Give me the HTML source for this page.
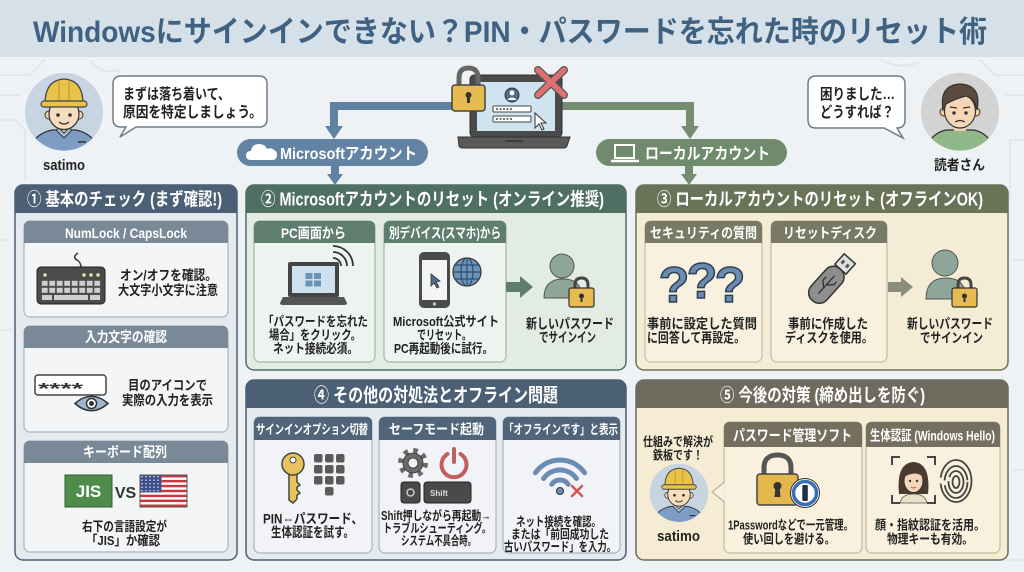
<!DOCTYPE html>
<html><head><meta charset="utf-8"><style>
html,body{margin:0;padding:0;width:1024px;height:572px;overflow:hidden;background:#eef2f5;}
svg{display:block}
</style></head><body>
<svg width="1024" height="572" viewBox="0 0 1024 572" xmlns="http://www.w3.org/2000/svg" xmlns:xlink="http://www.w3.org/1999/xlink" font-family="'Liberation Sans','Noto Sans CJK JP',sans-serif" font-weight="700">
<defs>
 <clipPath id="cc"><circle r="38.5"/></clipPath>
 <g id="sat">
  <circle r="39" fill="#c7d5e2"/>
  <g clip-path="url(#cc)">
   <path d="M-35,40 Q-31,22 -12,18 H12 Q31,22 35,40 Z" fill="#7e9dc2" stroke="#333" stroke-width="1.2"/>
   <rect x="-6" y="10" width="12" height="10" fill="#f3d2ae"/>
   <path d="M-8,18 L0,26 L8,18 L5,16 L0,21 L-5,16 Z" fill="#a9c0da" stroke="#333" stroke-width="1"/>
   <path d="M14,30 H22" stroke="#333" stroke-width="1.5"/>
  </g>
  <circle cx="-15" cy="3" r="4" fill="#f3d2ae" stroke="#333" stroke-width="1"/>
  <circle cx="15" cy="3" r="4" fill="#f3d2ae" stroke="#333" stroke-width="1"/>
  <ellipse cx="0" cy="2" rx="15" ry="15.5" fill="#f7dcbd" stroke="#333" stroke-width="1.2"/>
  <path d="M-19,-8 Q-19,-32 0,-33 Q19,-32 19,-8 Z" fill="#e9c24c" stroke="#444" stroke-width="1.2"/>
  <path d="M-5,-31 V-10 M5,-31 V-10" stroke="#c9a23a" stroke-width="1.5"/>
  <rect x="-23" y="-11" width="46" height="6" rx="3" fill="#e9c24c" stroke="#444" stroke-width="1.2"/>
  <circle cx="-6" cy="3" r="1.8" fill="#333"/>
  <circle cx="6" cy="3" r="1.8" fill="#333"/>
  <path d="M-5,10 Q0,14 5,10" stroke="#333" stroke-width="1.3" fill="none"/>
 </g>
 <pattern id="keys" x="41" y="280" width="7.5" height="7" patternUnits="userSpaceOnUse"><rect x="0.8" y="0.8" width="5.8" height="5" fill="#cfcfcf"/></pattern>
 <pattern id="stripes" x="140" y="475" width="47" height="4.92" patternUnits="userSpaceOnUse"><rect width="47" height="2.46" fill="#c8373d"/><rect y="2.46" width="47" height="2.46" fill="#fff"/></pattern>
 <pattern id="stars" x="140" y="475" width="4" height="3.5" patternUnits="userSpaceOnUse"><rect width="4" height="3.5" fill="#3d4f8a"/><circle cx="2" cy="1.7" r="0.7" fill="#fff"/></pattern>
</defs>

<!-- background circuit -->
<g stroke="#dde4ea" stroke-width="1.5" fill="none">
 <path d="M0,75 H30 L45,60 M0,95 H20 M0,120 H15 L25,130 V180 M0,240 H10 M0,330 H12"/>
 <path d="M1024,75 H995 L980,60 M1024,95 H1005 M1024,140 H1010 V200 M1024,260 H1012 M1024,470 H1012 M1000,560 H1024"/>
 <path d="M90,60 Q100,75 120,70 M880,60 Q900,70 920,62"/>
</g>

<!-- title -->
<rect width="1024" height="57" fill="#d5e0e8"/>
<text x="33" y="42" font-size="30" fill="#3f6283" textLength="954" lengthAdjust="spacingAndGlyphs">Windowsにサインインできない？PIN・パスワードを忘れた時のリセット術</text>

<!-- avatars -->
<use xlink:href="#sat" href="#sat" transform="translate(64,112)"/>
<text x="43" y="170" font-size="15" fill="#222" textLength="42" lengthAdjust="spacingAndGlyphs">satimo</text>

<circle cx="960" cy="112" r="39" fill="#d3d3d3"/>
<clipPath id="rc"><circle cx="960" cy="112" r="38.5"/></clipPath>
<g clip-path="url(#rc)">
 <path d="M924,156 Q928,134 946,130 H974 Q992,134 996,156 Z" fill="#8fb888" stroke="#333" stroke-width="1.2"/>
 <rect x="954" y="122" width="12" height="9" fill="#f3d2ae"/>
</g>
<circle cx="944" cy="112" r="4" fill="#f3d2ae" stroke="#333" stroke-width="1"/>
<circle cx="976" cy="112" r="4" fill="#f3d2ae" stroke="#333" stroke-width="1"/>
<ellipse cx="960" cy="111" rx="15.5" ry="17" fill="#f5d7b8" stroke="#333" stroke-width="1.2"/>
<path d="M943,110 Q939,85 960,84 Q982,85 977,110 Q975,99 966,96 Q954,99 946,104 Z" fill="#5b4a3d" stroke="#333" stroke-width="1.2"/>
<circle cx="954" cy="113" r="1.7" fill="#333"/><circle cx="966" cy="113" r="1.7" fill="#333"/>
<path d="M950,107 L957,108 M963,108 L970,107" stroke="#333" stroke-width="1.2"/>
<path d="M955,122 Q960,119 965,122" stroke="#333" stroke-width="1.2" fill="none"/>
<text x="934" y="170" font-size="14" fill="#222" textLength="51" lengthAdjust="spacingAndGlyphs">読者さん</text>

<!-- bubbles -->
<path d="M121,76 H259 Q267,76 267,84 V119 Q267,127 259,127 H136 L120,137 L126,127 H121 Q113,127 113,119 V84 Q113,76 121,76 Z" fill="#fff" stroke="#6f7d8a" stroke-width="1.5"/>
<text x="123" y="99" font-size="15" fill="#222" textLength="107" lengthAdjust="spacingAndGlyphs">まずは落ち着いて、</text>
<text x="123" y="117" font-size="15" fill="#222" textLength="139" lengthAdjust="spacingAndGlyphs">原因を特定しましょう。</text>
<path d="M816,76 H897 Q905,76 905,84 V120 Q905,128 897,128 L903,138 L884,128 H816 Q808,128 808,120 V84 Q808,76 816,76 Z" fill="#fff" stroke="#6f7d8a" stroke-width="1.5"/>
<text x="820" y="99" font-size="15" fill="#222" textLength="75" lengthAdjust="spacingAndGlyphs">困りました…</text>
<text x="820" y="117" font-size="15" fill="#222" textLength="74" lengthAdjust="spacingAndGlyphs">どうすれば？</text>

<!-- connectors -->
<path d="M458,106 H334 V128" stroke="#6081a1" stroke-width="8" fill="none"/>
<path d="M325,126 H343 L334,139 Z" fill="#6081a1"/>
<path d="M335,165 V176" stroke="#6081a1" stroke-width="8"/>
<path d="M327,174 H343 L335,185 Z" fill="#6081a1"/>
<path d="M555,106 H690 V128" stroke="#728d6f" stroke-width="8" fill="none"/>
<path d="M681,126 H699 L690,139 Z" fill="#728d6f"/>
<path d="M689,165 V176" stroke="#728d6f" stroke-width="8"/>
<path d="M681,174 H697 L689,185 Z" fill="#728d6f"/>

<!-- pills -->
<rect x="237" y="139" width="191" height="27" rx="13.5" fill="#6283a3"/>
<path d="M251,160 Q246,160 246,155.5 Q246,151 251,151 Q252,144 259,144 Q265,144 267,149 Q271,147 274,150 Q277,151 277,155 Q277,160 272,160 Z" fill="#fff"/>
<text x="280" y="159" font-size="16" fill="#fff" textLength="137" lengthAdjust="spacingAndGlyphs">Microsoftアカウント</text>
<rect x="596" y="139" width="191" height="27" rx="13.5" fill="#6f8a6c"/>
<rect x="615" y="145" width="19" height="13" fill="none" stroke="#fff" stroke-width="2"/>
<path d="M611,161 H639" stroke="#fff" stroke-width="2.5"/>
<text x="645" y="159" font-size="16" fill="#fff" textLength="125" lengthAdjust="spacingAndGlyphs">ローカルアカウント</text>

<!-- center laptop -->
<rect x="470" y="75" width="92" height="62" rx="4" fill="#4a4a4a" stroke="#333"/>
<rect x="477" y="82" width="78" height="49" fill="#cfe4ef"/>
<path d="M458,137 H570 L567,146 Q566,148 563,148 H463 Q460,148 459,146 Z" fill="#5a5a5a" stroke="#333"/>
<path d="M505,141 H523" stroke="#333" stroke-width="1.5"/>
<circle cx="512" cy="95" r="7" fill="#4f6b8a" stroke="#333"/>
<circle cx="512" cy="93" r="2.5" fill="#fff"/><path d="M507,100 Q512,95 517,100" fill="#fff"/>
<rect x="493" y="106" width="38" height="6" rx="1" fill="#fff" stroke="#444"/>
<rect x="493" y="116" width="38" height="6" rx="1" fill="#fff" stroke="#444"/>
<path d="M496,109 H512 M496,119 H512" stroke="#444" stroke-width="1.5" stroke-dasharray="2 1.5"/>
<path d="M535,113 L535,128 L539,124 L542,130 L544,129 L541,123 L546,123 Z" fill="#fff" stroke="#333"/>
<path d="M459,88 V78 Q459,68 468.5,68 Q478,68 478,78 V88" fill="none" stroke="#666" stroke-width="5"/>
<rect x="452" y="85" width="33" height="26" rx="3" fill="#e6bb52" stroke="#444" stroke-width="1.5"/>
<circle cx="468.5" cy="95" r="3" fill="#333"/><rect x="467" y="96" width="3" height="7" fill="#333"/>
<path d="M538,70 L564,95 M564,70 L538,95" stroke="#555" stroke-width="8" stroke-linecap="round"/>
<path d="M538,70 L564,95 M564,70 L538,95" stroke="#de7070" stroke-width="5.5" stroke-linecap="round"/>

<!-- BOX 1 -->
<rect x="15" y="185" width="222" height="375" rx="8" fill="#e5eaee" stroke="#4b5f75" stroke-width="1.5"/>
<path d="M15,213 V193 Q15,185 23,185 H229 Q237,185 237,193 V213 Z" fill="#4b5f75"/>
<text x="27" y="205.5" font-size="18" fill="#fff" textLength="195" lengthAdjust="spacingAndGlyphs">① 基本のチェック (まず確認!)</text>

<rect x="24" y="221" width="204" height="96" rx="6" fill="#f3f5f7" stroke="#aab4be" stroke-width="1.2"/>
<path d="M24,243 V227 Q24,221 30,221 H222 Q228,221 228,227 V243 Z" fill="#7a8998"/>
<text x="65" y="238" font-size="14" fill="#fff" textLength="122" lengthAdjust="spacingAndGlyphs">NumLock / CapsLock</text>
<path d="M81,268 Q81,262 77,260 Q72,257 78,253" stroke="#333" stroke-width="1.5" fill="none"/>
<rect x="37" y="267" width="68" height="37" rx="4" fill="#4b4b4b" stroke="#222"/>
<circle cx="45" cy="275" r="1.8" fill="#dfe6b0"/><circle cx="84" cy="275" r="1.8" fill="#dfe6b0"/><circle cx="91" cy="275" r="1.8" fill="#dfe6b0"/><circle cx="98" cy="275" r="1.8" fill="#dfe6b0"/>
<rect x="41" y="280" width="60" height="14" fill="url(#keys)"/>
<rect x="42" y="295" width="10" height="5" fill="#cfcfcf"/><rect x="54" y="295" width="34" height="5" fill="#cfcfcf"/><rect x="90" y="295" width="10" height="5" fill="#cfcfcf"/>
<text x="120" y="280" font-size="13.5" fill="#222" textLength="97" lengthAdjust="spacingAndGlyphs">オン/オフを確認。</text>
<text x="118" y="295" font-size="13.5" fill="#222" textLength="100" lengthAdjust="spacingAndGlyphs">大文字小文字に注意</text>

<rect x="24" y="326" width="204" height="106" rx="6" fill="#f3f5f7" stroke="#aab4be" stroke-width="1.2"/>
<path d="M24,348 V332 Q24,326 30,326 H222 Q228,326 228,332 V348 Z" fill="#7a8998"/>
<text x="85" y="342" font-size="14" fill="#fff" textLength="82" lengthAdjust="spacingAndGlyphs">入力文字の確認</text>
<rect x="35" y="375" width="71" height="20" rx="3" fill="#fff" stroke="#444" stroke-width="1.5"/>
<text x="38" y="394" font-size="16" fill="#333" textLength="45" lengthAdjust="spacingAndGlyphs">****</text>
<path d="M75,403.5 Q91.5,389 108,403.5 Q91.5,418 75,403.5 Z" fill="#9cb7cf" stroke="#333" stroke-width="1.5"/>
<circle cx="91.5" cy="403.5" r="5" fill="#fff" stroke="#333" stroke-width="1.5"/><circle cx="91.5" cy="403.5" r="2.5" fill="#333"/>
<text x="128" y="390" font-size="13.5" fill="#222" textLength="79" lengthAdjust="spacingAndGlyphs">目のアイコンで</text>
<text x="122" y="405" font-size="13.5" fill="#222" textLength="91" lengthAdjust="spacingAndGlyphs">実際の入力を表示</text>

<rect x="24" y="441" width="204" height="111" rx="6" fill="#f3f5f7" stroke="#aab4be" stroke-width="1.2"/>
<path d="M24,463 V447 Q24,441 30,441 H222 Q228,441 228,447 V463 Z" fill="#7a8998"/>
<text x="83" y="457" font-size="14" fill="#fff" textLength="84" lengthAdjust="spacingAndGlyphs">キーボード配列</text>
<rect x="65" y="475" width="47" height="32" fill="#4f8c4c" stroke="#2f5f2f"/>
<text x="88.5" y="497" font-size="17" fill="#fff" text-anchor="middle">JIS</text>
<text x="125.5" y="498" font-size="16" fill="#333" text-anchor="middle">VS</text>
<rect x="140" y="475" width="47" height="32" fill="url(#stripes)" stroke="#555"/>
<rect x="140.5" y="475.5" width="21" height="17" fill="url(#stars)"/>
<text x="82" y="531" font-size="13" fill="#222" textLength="85" lengthAdjust="spacingAndGlyphs">右下の言語設定が</text>
<text x="86" y="545" font-size="13" fill="#222" textLength="74" lengthAdjust="spacingAndGlyphs">「JIS」か確認</text>

<!-- BOX 2 -->
<rect x="246" y="185" width="380" height="185" rx="8" fill="#e2ebe4" stroke="#4f6f63" stroke-width="1.5"/>
<path d="M246,213 V193 Q246,185 254,185 H618 Q626,185 626,193 V213 Z" fill="#4f6f63"/>
<text x="261" y="205.5" font-size="18" fill="#fff" textLength="343" lengthAdjust="spacingAndGlyphs">② Microsoftアカウントのリセット (オンライン推奨)</text>

<rect x="254" y="221" width="121" height="141" rx="6" fill="#edf3ee" stroke="#a3b5aa" stroke-width="1.2"/>
<path d="M254,243 V227 Q254,221 260,221 H369 Q375,221 375,227 V243 Z" fill="#5f7e70"/>
<text x="281" y="238" font-size="14" fill="#fff" textLength="65" lengthAdjust="spacingAndGlyphs">PC画面から</text>
<path d="M337,256 A8,8 0 0 1 345,264 M337,250 A14,14 0 0 1 351,264 M337,244 A20,20 0 0 1 357,264" stroke="#333" stroke-width="1.8" fill="none" transform="translate(-4,2)"/>
<rect x="288" y="262" width="51" height="35" rx="2" fill="#444"/>
<rect x="292" y="266" width="43" height="27" fill="#cde0ee"/>
<rect x="305.5" y="273" width="7" height="6" fill="#6f93b7"/><rect x="314" y="273" width="7" height="6" fill="#6f93b7"/>
<rect x="305.5" y="280.5" width="7" height="6" fill="#6f93b7"/><rect x="314" y="280.5" width="7" height="6" fill="#6f93b7"/>
<path d="M283,297 H344 L347,303 Q347,305 344,305 H283 Q280,305 280,303 Z" fill="#555"/>
<text x="263" y="326" font-size="13" fill="#222" textLength="105" lengthAdjust="spacingAndGlyphs">「パスワードを忘れた</text>
<text x="269" y="339.5" font-size="13" fill="#222" textLength="92" lengthAdjust="spacingAndGlyphs">場合」をクリック。</text>
<text x="273" y="353" font-size="13" fill="#222" textLength="85" lengthAdjust="spacingAndGlyphs">ネット接続必須。</text>

<rect x="384" y="221" width="122" height="141" rx="6" fill="#edf3ee" stroke="#a3b5aa" stroke-width="1.2"/>
<path d="M384,243 V227 Q384,221 390,221 H500 Q506,221 506,227 V243 Z" fill="#5f7e70"/>
<text x="389" y="238" font-size="14" fill="#fff" textLength="112" lengthAdjust="spacingAndGlyphs">別デバイス(スマホ)から</text>
<rect x="419" y="252" width="31" height="56" rx="5" fill="#4a4a4a"/>
<rect x="422" y="260" width="25" height="40" fill="#f3f4f6"/>
<circle cx="434.5" cy="304" r="1.6" fill="#ccc"/>
<path d="M431,274 L431,286 L434,283 L437,288 L439,287 L436,282 L440,281 Z" fill="#4f6d8e" stroke="#333" stroke-width="0.8"/>
<circle cx="467" cy="272" r="14" fill="#6e93b8" stroke="#333" stroke-width="1.2"/>
<ellipse cx="467" cy="272" rx="6" ry="14" fill="none" stroke="#2f4f6f" stroke-width="1.2"/>
<path d="M453,272 H481 M455,265 H479 M455,279 H479 M467,258 V286" stroke="#2f4f6f" stroke-width="1.2"/>
<text x="393" y="326" font-size="13" fill="#222" textLength="106" lengthAdjust="spacingAndGlyphs">Microsoft公式サイト</text>
<text x="417" y="339.5" font-size="13" fill="#222" textLength="54" lengthAdjust="spacingAndGlyphs">でリセット。</text>
<text x="394" y="353" font-size="13" fill="#222" textLength="99" lengthAdjust="spacingAndGlyphs">PC再起動後に試行。</text>

<path d="M506,282 H520 V276 L533,287 L520,298 V292 H506 Z" fill="#5e7d6f"/>
<circle cx="562" cy="266" r="12" fill="#8ea59a" stroke="#555" stroke-width="1"/>
<path d="M544,298 Q544,279 563,279 Q582,279 582,298 Z" fill="#8ea59a" stroke="#555" stroke-width="1"/>
<path d="M575,291 V285 Q575,278 581.5,278 Q588,278 588,285 V291" fill="none" stroke="#444" stroke-width="3"/>
<rect x="569" y="288" width="25" height="19" rx="2" fill="#e6bb52" stroke="#333" stroke-width="1.2"/>
<circle cx="581.5" cy="296" r="2.5" fill="#333"/><rect x="580.5" y="297" width="2" height="5" fill="#333"/>
<text x="526" y="328.5" font-size="13.5" fill="#222" textLength="88" lengthAdjust="spacingAndGlyphs">新しいパスワード</text>
<text x="539" y="342" font-size="13.5" fill="#222" textLength="57" lengthAdjust="spacingAndGlyphs">でサインイン</text>

<!-- BOX 3 -->
<rect x="636" y="185" width="372" height="185" rx="8" fill="#f4ecd5" stroke="#6a7358" stroke-width="1.5"/>
<path d="M636,213 V193 Q636,185 644,185 H1000 Q1008,185 1008,193 V213 Z" fill="#6a7358"/>
<text x="657" y="205.5" font-size="18" fill="#fff" textLength="326" lengthAdjust="spacingAndGlyphs">③ ローカルアカウントのリセット (オフラインOK)</text>

<rect x="645" y="221" width="117" height="141" rx="6" fill="#f8f1df" stroke="#c4bca3" stroke-width="1.2"/>
<path d="M645,243 V227 Q645,221 651,221 H756 Q762,221 762,227 V243 Z" fill="#787a65"/>
<text x="650" y="238" font-size="14" fill="#fff" textLength="107" lengthAdjust="spacingAndGlyphs">セキュリティの質問</text>
<g font-size="50" fill="#6b8cb2" stroke="#2f3f52" stroke-width="1.5" text-anchor="middle">
 <text x="674" y="302">?</text><text x="702" y="298">?</text><text x="730" y="302">?</text>
</g>
<text x="647" y="328.5" font-size="13.5" fill="#222" textLength="110" lengthAdjust="spacingAndGlyphs">事前に設定した質問</text>
<text x="647" y="342.5" font-size="13.5" fill="#222" textLength="98" lengthAdjust="spacingAndGlyphs">に回答して再設定。</text>

<rect x="771" y="221" width="116" height="141" rx="6" fill="#f8f1df" stroke="#c4bca3" stroke-width="1.2"/>
<path d="M771,243 V227 Q771,221 777,221 H881 Q887,221 887,227 V243 Z" fill="#787a65"/>
<text x="783" y="238" font-size="14" fill="#fff" textLength="94" lengthAdjust="spacingAndGlyphs">リセットディスク</text>
<g transform="rotate(-48 830 280)">
 <rect x="803" y="270" width="42" height="21" rx="10" fill="#8e8e8e" stroke="#333" stroke-width="1.5"/>
 <rect x="845" y="273" width="14" height="15" fill="#e0e0e0" stroke="#333" stroke-width="1.5"/>
 <rect x="850" y="276" width="4" height="3" fill="#555"/><rect x="850" y="282" width="4" height="3" fill="#555"/>
 <path d="M812,280.5 H836 M820,280.5 L825,275 H830 M824,280.5 L829,286 H833" stroke="#2f2f2f" stroke-width="1.3" fill="none"/>
</g>
<text x="788" y="328.5" font-size="13.5" fill="#222" textLength="80" lengthAdjust="spacingAndGlyphs">事前に作成した</text>
<text x="785" y="342.5" font-size="13.5" fill="#222" textLength="88" lengthAdjust="spacingAndGlyphs">ディスクを使用。</text>

<path d="M888,282 H901 V277 L913,287 L901,297 V292 H888 Z" fill="#8a8e78"/>
<circle cx="945" cy="263" r="13" fill="#8ea59a" stroke="#555" stroke-width="1"/>
<path d="M926,299 Q926,278 946,278 Q966,278 966,299 Z" fill="#8ea59a" stroke="#555" stroke-width="1"/>
<path d="M958,291 V285 Q958,278 964.5,278 Q971,278 971,285 V291" fill="none" stroke="#444" stroke-width="3"/>
<rect x="952" y="288" width="25" height="19" rx="2" fill="#e6bb52" stroke="#333" stroke-width="1.2"/>
<circle cx="964.5" cy="296" r="2.5" fill="#333"/><rect x="963.5" y="297" width="2" height="5" fill="#333"/>
<text x="907" y="328.5" font-size="13.5" fill="#222" textLength="86" lengthAdjust="spacingAndGlyphs">新しいパスワード</text>
<text x="920" y="342.5" font-size="13.5" fill="#222" textLength="63" lengthAdjust="spacingAndGlyphs">でサインイン</text>

<!-- BOX 4 -->
<rect x="246" y="380" width="380" height="180" rx="8" fill="#e5eaee" stroke="#4b5f75" stroke-width="1.5"/>
<path d="M246,408 V388 Q246,380 254,380 H618 Q626,380 626,388 V408 Z" fill="#4b5f75"/>
<text x="314" y="401.5" font-size="19" fill="#fff" textLength="244" lengthAdjust="spacingAndGlyphs">④ その他の対処法とオフライン問題</text>

<rect x="254" y="417" width="118" height="136" rx="6" fill="#f1f3f6" stroke="#aab4be" stroke-width="1.2"/>
<path d="M254,440 V423 Q254,417 260,417 H366 Q372,417 372,423 V440 Z" fill="#50647a"/>
<text x="256" y="434" font-size="13" fill="#fff" textLength="112" lengthAdjust="spacingAndGlyphs">サインインオプション切替</text>
<path d="M289,472 V500 L293,503 L297,499 V495 L300,493 L297,490 V487 L300,485 L297,482 V472 Z" fill="#e8c35b" stroke="#444" stroke-width="1.5"/>
<circle cx="293" cy="464" r="11" fill="#e8c35b" stroke="#444" stroke-width="1.5"/>
<circle cx="293" cy="460" r="3" fill="#fff" stroke="#444"/>
<g fill="#5a5a5a">
 <rect x="314" y="454" width="8.5" height="8.5" rx="2"/><rect x="325" y="454" width="8.5" height="8.5" rx="2"/><rect x="336" y="454" width="8.5" height="8.5" rx="2"/>
 <rect x="314" y="465" width="8.5" height="8.5" rx="2"/><rect x="325" y="465" width="8.5" height="8.5" rx="2"/><rect x="336" y="465" width="8.5" height="8.5" rx="2"/>
 <rect x="314" y="476" width="8.5" height="8.5" rx="2"/><rect x="325" y="476" width="8.5" height="8.5" rx="2"/><rect x="336" y="476" width="8.5" height="8.5" rx="2"/>
 <rect x="325" y="487" width="8.5" height="8.5" rx="2"/>
</g>
<text x="263" y="523.5" font-size="13.5" fill="#222" textLength="100" lengthAdjust="spacingAndGlyphs">PIN⇔パスワード、</text>
<text x="271" y="537" font-size="13.5" fill="#222" textLength="83" lengthAdjust="spacingAndGlyphs">生体認証を試す。</text>

<rect x="379" y="417" width="117" height="136" rx="6" fill="#f1f3f6" stroke="#aab4be" stroke-width="1.2"/>
<path d="M379,440 V423 Q379,417 385,417 H490 Q496,417 496,423 V440 Z" fill="#50647a"/>
<text x="389" y="434" font-size="13.5" fill="#fff" textLength="95" lengthAdjust="spacingAndGlyphs">セーフモード起動</text>
<circle cx="413" cy="463" r="12.5" fill="none" stroke="#6a6a6a" stroke-width="5" stroke-dasharray="4.5 5.3"/>
<circle cx="413" cy="463" r="10" fill="#6a6a6a" stroke="#333" stroke-width="0.8"/>
<circle cx="413" cy="463" r="5" fill="#f1f3f6" stroke="#333" stroke-width="0.8"/>
<path d="M447.5,454 A12.5,12.5 0 1 0 460.5,454" fill="none" stroke="#c0605e" stroke-width="4" stroke-linecap="round"/>
<path d="M454,449 V462" stroke="#c0605e" stroke-width="4" stroke-linecap="round"/>
<rect x="401" y="482" width="19" height="21" rx="3" fill="#4a4a4a" stroke="#222"/>
<circle cx="410.5" cy="492.5" r="3.5" fill="none" stroke="#ccc" stroke-width="1.5"/>
<rect x="424" y="482" width="47" height="21" rx="3" fill="#4a4a4a" stroke="#222"/>
<text x="430" y="496" font-size="8" fill="#ddd">Shift</text>
<text x="381" y="520" font-size="12.5" fill="#222" textLength="110" lengthAdjust="spacingAndGlyphs">Shift押しながら再起動→</text>
<text x="383" y="532.5" font-size="12.5" fill="#222" textLength="108" lengthAdjust="spacingAndGlyphs">トラブルシューティング。</text>
<text x="401" y="545" font-size="12.5" fill="#222" textLength="75" lengthAdjust="spacingAndGlyphs">システム不具合時。</text>

<rect x="503" y="417" width="117" height="136" rx="6" fill="#f1f3f6" stroke="#aab4be" stroke-width="1.2"/>
<path d="M503,440 V423 Q503,417 509,417 H614 Q620,417 620,423 V440 Z" fill="#50647a"/>
<text x="504" y="434" font-size="13" fill="#fff" textLength="114" lengthAdjust="spacingAndGlyphs">「オフラインです」と表示</text>
<g fill="none" stroke="#6b8db5" stroke-width="5" stroke-linecap="round">
 <path d="M535.4,472.8 A30,30 0 0 1 584.6,472.8"/>
 <path d="M543.6,478.5 A20,20 0 0 1 576.4,478.5"/>
 <path d="M551.8,484.3 A10,10 0 0 1 568.2,484.3"/>
</g>
<circle cx="560" cy="491" r="3.5" fill="#6b8db5" stroke="#333"/>
<path d="M572,486 L582,496 M582,486 L572,496" stroke="#d05555" stroke-width="2.5" stroke-linecap="round"/>
<text x="516" y="526" font-size="12.5" fill="#222" textLength="85" lengthAdjust="spacingAndGlyphs">ネット接続を確認。</text>
<text x="511" y="538.5" font-size="12.5" fill="#222" textLength="98" lengthAdjust="spacingAndGlyphs">または「前回成功した</text>
<text x="504" y="551" font-size="12.5" fill="#222" textLength="112" lengthAdjust="spacingAndGlyphs">古いパスワード」を入力。</text>

<!-- BOX 5 -->
<rect x="636" y="380" width="372" height="180" rx="8" fill="#f5ecd3" stroke="#6e6a5d" stroke-width="1.5"/>
<path d="M636,408 V388 Q636,380 644,380 H1000 Q1008,380 1008,388 V408 Z" fill="#6e6a5d"/>
<text x="720" y="401.5" font-size="18" fill="#fff" textLength="205" lengthAdjust="spacingAndGlyphs">⑤ 今後の対策 (締め出しを防ぐ)</text>

<text x="643" y="446" font-size="12.5" fill="#222" textLength="70" lengthAdjust="spacingAndGlyphs">仕組みで解決が</text>
<text x="653" y="459.5" font-size="12.5" fill="#222" textLength="50" lengthAdjust="spacingAndGlyphs">鉄板です！</text>
<use xlink:href="#sat" href="#sat" transform="translate(679,493) scale(0.75)"/>
<text x="657" y="541" font-size="15" fill="#222" textLength="43" lengthAdjust="spacingAndGlyphs">satimo</text>

<rect x="724" y="422" width="138" height="131" rx="6" fill="#f9f1dd" stroke="#c4bca3" stroke-width="1.2"/>
<path d="M724.6,482 L712,492 L724.6,502" fill="#f9f1dd" stroke="#b8b09a" stroke-width="1.2"/>
<path d="M724,447 V428 Q724,422 730,422 H856 Q862,422 862,428 V447 Z" fill="#746f5f"/>
<text x="733" y="440.5" font-size="15" fill="#fff" textLength="119" lengthAdjust="spacingAndGlyphs">パスワード管理ソフト</text>
<path d="M764,478 V468 Q764,455 777.5,455 Q791,455 791,468 V478" fill="none" stroke="#555" stroke-width="5"/>
<rect x="757" y="474" width="41" height="31" rx="3" fill="#e2b84e" stroke="#444" stroke-width="1.5"/>
<circle cx="777.5" cy="486" r="4" fill="#333"/><path d="M775.5,487 L774.5,497 H780.5 L779.5,487 Z" fill="#333"/>
<circle cx="805" cy="493" r="14.5" fill="#fff" stroke="#333" stroke-width="1"/>
<circle cx="805" cy="493" r="11.5" fill="#fff" stroke="#3a6fb5" stroke-width="3.5"/>
<rect x="802.3" y="485" width="5.5" height="16" rx="1" fill="#1f2f45"/>
<text x="728" y="529.5" font-size="13" fill="#222" textLength="125" lengthAdjust="spacingAndGlyphs">1Passwordなどで一元管理。</text>
<text x="743" y="543.5" font-size="13" fill="#222" textLength="92" lengthAdjust="spacingAndGlyphs">使い回しを避ける。</text>

<rect x="866" y="422" width="134" height="131" rx="6" fill="#f9f1dd" stroke="#c4bca3" stroke-width="1.2"/>
<path d="M866,447 V428 Q866,422 872,422 H994 Q1000,422 1000,428 V447 Z" fill="#746f5f"/>
<text x="870" y="440.5" font-size="14" fill="#fff" textLength="125" lengthAdjust="spacingAndGlyphs">生体認証 (Windows Hello)</text>
<path d="M892,465 V457 H900 M927,457 H935 V465 M892,495 V503 H900 M927,503 H935 V495" stroke="#444" stroke-width="2" fill="none"/>
<path d="M899,494 Q896,463 913.5,462 Q931,463 928,494 Z" fill="#4a3a30"/>
<path d="M900,503 Q902,494 913.5,494 Q925,494 927,503 Z" fill="#e8e0c8" stroke="#555" stroke-width="0.8"/>
<ellipse cx="913.5" cy="481" rx="9.5" ry="11.5" fill="#f5d6b8" stroke="#333" stroke-width="1"/>
<path d="M904,477 Q906,466 913.5,466 Q921,466 923,477 Q916,470 904,477 Z" fill="#4a3a30"/>
<circle cx="910" cy="481" r="1.2" fill="#333"/><circle cx="917" cy="481" r="1.2" fill="#333"/>
<path d="M911,487 Q913.5,489 916,487" stroke="#b55" stroke-width="1" fill="none"/>
<g fill="none" stroke="#444" stroke-width="1.8">
 <ellipse cx="956" cy="482" rx="3.5" ry="6"/>
 <ellipse cx="956" cy="482" rx="7.5" ry="11" stroke-dasharray="30 4"/>
 <ellipse cx="956" cy="482" rx="11.5" ry="16" stroke-dasharray="40 5"/>
 <ellipse cx="956" cy="481" rx="15.5" ry="21" stroke-dasharray="55 6"/>
</g>
<text x="875" y="529.5" font-size="13" fill="#222" textLength="110" lengthAdjust="spacingAndGlyphs">顔・指紋認証を活用。</text>
<text x="887" y="543.5" font-size="13" fill="#222" textLength="86" lengthAdjust="spacingAndGlyphs">物理キーも有効。</text>
</svg>
</body></html>
